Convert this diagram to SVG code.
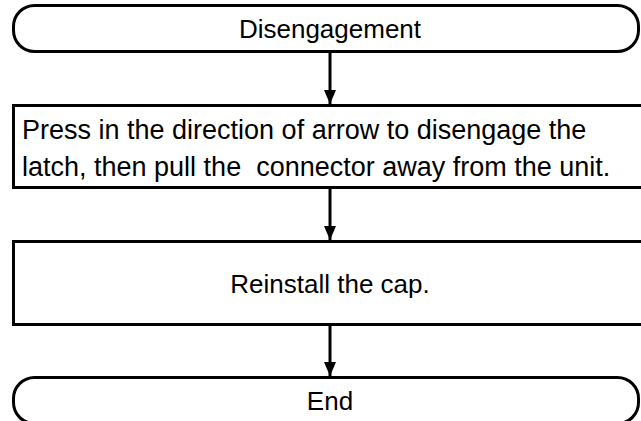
<svg xmlns="http://www.w3.org/2000/svg" width="641" height="421" viewBox="0 0 641 421">
  <style>
    .shape { fill: #ffffff; stroke: #000000; stroke-width: 3; }
    .label { font-family: "Liberation Sans", Arial, sans-serif; font-size: 26px; fill: #000000; }
    .body { font-size: 27px; }
    .mid { text-anchor: middle; }
    .link { stroke: #000000; stroke-width: 3; fill: none; marker-end: url(#head); }
  </style>
  <defs>
    <marker id="head" viewBox="0 0 14 12" refX="14" refY="6" markerWidth="14" markerHeight="12" markerUnits="userSpaceOnUse" orient="auto">
      <path d="M0,0 L14,6 L0,12 Z" fill="#000000"/>
    </marker>
  </defs>

  <g id="connectors">
    <line class="link" x1="330" y1="52" x2="330" y2="104"/>
    <line class="link" x1="330" y1="188" x2="330" y2="240"/>
    <line class="link" x1="330" y1="325" x2="330" y2="376"/>
  </g>

  <g id="start">
    <rect class="shape" x="13.5" y="5.5" width="625" height="46" rx="21" ry="21"/>
    <text class="label mid" x="330" y="38">Disengagement</text>
  </g>

  <g id="step-disengage">
    <rect class="shape" x="13.5" y="105.5" width="640" height="82"/>
    <text class="label body" x="22" y="139">Press in the direction of arrow to disengage the</text>
    <text class="label body" x="22" y="176" xml:space="preserve">latch, then pull the  connector away from the unit.</text>
  </g>

  <g id="step-cap">
    <rect class="shape" x="13.5" y="241.5" width="640" height="83"/>
    <text class="label mid" x="330" y="293">Reinstall the cap.</text>
  </g>

  <g id="end">
    <rect class="shape" x="13.5" y="377.5" width="625" height="46" rx="21" ry="21"/>
    <text class="label mid" x="330" y="410">End</text>
  </g>
</svg>
